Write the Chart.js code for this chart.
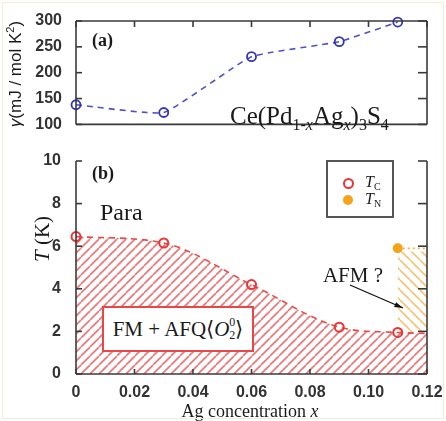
<!DOCTYPE html>
<html>
<head>
<meta charset="utf-8">
<script src="https://cdn.jsdelivr.net/npm/chart.js@4.4.1/dist/chart.umd.min.js"></script>
<style>
    html, body { margin: 0; padding: 0; background: #fff; }
    #wrap { position: relative; width: 446px; height: 421px; overflow: hidden; }
    #gammaChart { position: absolute; left: 0; top: 0; }
    #phaseChart { position: absolute; left: 0; top: 140px; }
    #edge { position: absolute; left: 2px; top: 2px; width: 440px; height: 415px; border: 1px solid #f2edd6; pointer-events: none; }
    .lab { position: absolute; white-space: nowrap; line-height: 1; color: #1a1a1a;
           font-family: "Liberation Serif", "Times New Roman", serif; }
    .sans { font-family: "Liberation Sans", Arial, sans-serif; }
    .vc { transform: translateY(-50%); }
    .cc { transform: translate(-50%, -50%); }
    .hc { transform: translateX(-50%); }
    .rot { transform: translate(-50%, -50%) rotate(-90deg); }
    .box { position: absolute; box-sizing: border-box; background: #fff; }
    .fm { display: flex; align-items: center; justify-content: center; font-size: 21px;
          line-height: 1; white-space: nowrap; color: #1a1a1a;
          font-family: "Liberation Serif", "Times New Roman", serif; }
    .stack { display: inline-block; font-size: 12px; line-height: 13px; vertical-align: -5px; }
    .stack span { display: block; }
    .dot { position: absolute; box-sizing: border-box; border-radius: 50%; }
</style>
</head>
<body>
<div id="wrap">
    <canvas id="gammaChart" width="446" height="140" style="width:446px;height:140px"></canvas>
    <canvas id="phaseChart" width="446" height="281" style="width:446px;height:281px"></canvas>

    <div class="lab vc" style="left:92px;top:40px;font-size:18px;font-weight:bold">(a)</div>
    <div class="lab" style="left:230px;top:103px;font-size:25px">Ce(Pd<span style="font-size:16px;vertical-align:-6px">1-<i>x</i></span>Ag<span style="font-size:16px;vertical-align:-6px"><i>x</i></span>)<span style="font-size:16px;vertical-align:-6px">3</span>S<span style="font-size:16px;vertical-align:-6px">4</span></div>
    <div class="lab sans rot" style="left:14px;top:74px;font-size:17px"><i>γ</i>(mJ / mol K<span style="font-size:11px;vertical-align:7px">2</span>)</div>

    <div class="lab vc" style="left:92px;top:173px;font-size:18px;font-weight:bold">(b)</div>
    <div class="lab vc" style="left:100px;top:212px;font-size:24px">Para</div>
    <div class="box fm" style="left:102px;top:306px;width:152px;height:46px;border:2px solid #e8474a">FM + AFQ⟨<i>O</i><span class="stack"><span>0</span><span>2</span></span>⟩</div>
    <div class="lab cc" style="left:353px;top:275px;font-size:21px">AFM ?</div>

    <div class="box" style="left:326px;top:160px;width:68px;height:58px;border:2px solid #555"></div>
    <div class="dot" style="left:342.5px;top:177.5px;width:11px;height:11px;border:2px solid #e8353a"></div>
    <div class="dot" style="left:343px;top:195px;width:10px;height:10px;background:#f5a31a"></div>
    <div class="lab" style="left:365px;top:173.6px;font-size:16px"><i>T</i><span style="font-size:10px;vertical-align:-3px">C</span></div>
    <div class="lab" style="left:365px;top:190.6px;font-size:16px"><i>T</i><span style="font-size:10px;vertical-align:-3px">N</span></div>

    <div class="lab hc" style="left:250px;top:402px;font-size:18px">Ag concentration <i>x</i></div>
    <div class="lab rot" style="left:42px;top:239px;font-size:21px"><i>T</i> (K)</div>

    <div id="edge"></div>
</div>
<script>
// values
const agConcentration = [0, 0.03, 0.06, 0.09, 0.11];
const gammaValues = [138, 123, 231, 260, 298];
const tcValues = [6.45, 6.15, 4.2, 2.2, 1.95];

const boundaryX = [0, 0.03, 0.06, 0.09, 0.11, 0.12];
const boundaryT = [6.45, 6.15, 4.2, 2.2, 1.95, 1.9];

const tnX = [0.11];
const tnValues = [5.9];
const tnLineX = [0.11, 0.12];
const tnLineT = [5.9, 5.9];

const afmX = [0.11, 0.12];
const afmTop = [5.75, 5.75];
const afmBottom = [1.95, 1.9];

const xTickValues = [0, 0.02, 0.04, 0.06, 0.08, 0.10, 0.12];
const xTickLabels = ["0", "0.02", "0.04", "0.06", "0.08", "0.10", "0.12"];
const gammaTicks = [100, 150, 200, 250, 300];
const tTicks = [0, 2, 4, 6, 8, 10];

const SANS = '"Liberation Sans", Arial, sans-serif';
const tickFont = { family: SANS, size: 16, weight: "bold" };
const FRAME = "#3a3a3a";

function toPoints(xs, ys) {
    return xs.map((x, i) => ({ x: x, y: ys[i] }));
}

function makeHatch(color, width, step, backslash) {
    const tile = document.createElement("canvas");
    tile.width = step;
    tile.height = step;
    const c = tile.getContext("2d");
    c.strokeStyle = color;
    c.lineWidth = width;
    c.beginPath();
    for (let k = -1; k <= 1; k++) {
        if (backslash) {
            c.moveTo(k * step, 0);
            c.lineTo(k * step + step, step);
        } else {
            c.moveTo(k * step, step);
            c.lineTo(k * step + step, 0);
        }
    }
    c.stroke();
    return c.createPattern(tile, "repeat");
}

// axis box and inward ticks, same style as the original plot
function strokeAxes(chart, boxTop, xTop, xBottom) {
    const ctx = chart.ctx;
    const a = chart.chartArea;
    const xs = chart.scales.x;
    const ys = chart.scales.y;
    const lines = [
        [a.left, a.top, a.left, a.bottom],
        [a.left, a.bottom, a.right, a.bottom],
        [a.right, a.bottom, a.right, a.top]
    ];
    if (boxTop) lines.push([a.left, a.top, a.right, a.top]);
    xTickValues.forEach(v => {
        const px = xs.getPixelForValue(v);
        if (xTop) lines.push([px, a.top, px, a.top + 6]);
        if (xBottom) lines.push([px, a.bottom, px, a.bottom - 5]);
    });
    ys.ticks.forEach(t => {
        const py = ys.getPixelForValue(t.value);
        lines.push([a.left, py, a.left + 6, py]);
        lines.push([a.right, py, a.right - 9, py]);
    });
    ctx.save();
    ctx.setLineDash([]);
    ctx.globalAlpha = 1;
    ctx.strokeStyle = FRAME;
    ctx.lineWidth = 1.6;
    lines.forEach(l => {
        ctx.beginPath();
        ctx.moveTo(l[0], l[1]);
        ctx.lineTo(l[2], l[3]);
        ctx.stroke();
    });
    ctx.restore();
}

function drawArrow(ctx, x1, y1, x2, y2) {
    const ang = Math.atan2(y2 - y1, x2 - x1);
    ctx.save();
    ctx.setLineDash([]);
    ctx.strokeStyle = "#111";
    ctx.fillStyle = "#111";
    ctx.lineWidth = 1.3;
    ctx.beginPath();
    ctx.moveTo(x1, y1);
    ctx.lineTo(x2, y2);
    ctx.stroke();
    ctx.beginPath();
    ctx.moveTo(x2, y2);
    ctx.lineTo(x2 - 9 * Math.cos(ang - 0.3), y2 - 9 * Math.sin(ang - 0.3));
    ctx.lineTo(x2 - 9 * Math.cos(ang + 0.3), y2 - 9 * Math.sin(ang + 0.3));
    ctx.closePath();
    ctx.fill();
    ctx.restore();
}

const gammaFrame = {
    id: "gammaFrame",
    afterDraw(chart) {
        strokeAxes(chart, true, true, false);
    }
};

const phaseFrame = {
    id: "phaseFrame",
    afterDraw(chart) {
        strokeAxes(chart, false, false, true);
        drawArrow(chart.ctx, 350, 145, 403, 168);
    }
};

const redHatch = makeHatch("rgba(236, 70, 70, 0.75)", 1.6, 9, false);
const orangeHatch = makeHatch("rgba(244, 190, 100, 0.9)", 1.6, 10, true);

new Chart(document.getElementById("gammaChart"), {
    type: "line",
    data: {
        datasets: [{
            data: toPoints(agConcentration, gammaValues),
            borderColor: "#5050c8",
            borderWidth: 1.6,
            borderDash: [6, 5],
            pointRadius: 4.5,
            pointBorderWidth: 1.8,
            pointBorderColor: "#3535b8",
            pointBackgroundColor: "rgba(0,0,0,0)",
            tension: 0.12,
            fill: false,
            clip: false
        }]
    },
    options: {
        responsive: false,
        animation: false,
        events: [],
        layout: { padding: { top: 21, right: 19, left: 0, bottom: 0 } },
        plugins: { legend: { display: false }, tooltip: { enabled: false } },
        scales: {
            x: {
                type: "linear", min: 0, max: 0.12,
                afterBuildTicks: axis => { axis.ticks = xTickValues.map(v => ({ value: v })); },
                afterFit: axis => { axis.height = 13; },
                ticks: { display: false },
                grid: { display: false },
                border: { display: false }
            },
            y: {
                min: 100, max: 300,
                afterBuildTicks: axis => { axis.ticks = gammaTicks.map(v => ({ value: v })); },
                afterFit: axis => { axis.width = 76; },
                ticks: { padding: 6, font: tickFont, color: "#333" },
                grid: { display: false },
                border: { display: false }
            }
        }
    },
    plugins: [gammaFrame]
});

new Chart(document.getElementById("phaseChart"), {
    type: "line",
    data: {
        datasets: [
            {
                data: toPoints(tnX, tnValues),
                showLine: false,
                pointRadius: 5,
                pointBorderWidth: 0,
                pointBackgroundColor: "#f5a31a",
                clip: false
            },
            {
                data: toPoints(agConcentration, tcValues),
                showLine: false,
                pointRadius: 4.5,
                pointBorderWidth: 2,
                pointBorderColor: "#e8353a",
                pointBackgroundColor: "rgba(0,0,0,0)",
                clip: false
            },
            {
                data: toPoints(tnLineX, tnLineT),
                borderColor: "#f2b04a",
                borderWidth: 1.6,
                borderDash: [2, 3],
                pointRadius: 0,
                fill: false
            },
            {
                data: toPoints(boundaryX, boundaryT),
                borderColor: "#e84a4a",
                borderWidth: 1.6,
                borderDash: [6, 5],
                pointRadius: 0,
                cubicInterpolationMode: "monotone",
                fill: "origin",
                backgroundColor: redHatch
            },
            {
                data: toPoints(afmX, afmTop),
                borderWidth: 0,
                pointRadius: 0,
                fill: "+1",
                backgroundColor: orangeHatch
            },
            {
                data: toPoints(afmX, afmBottom),
                borderWidth: 0,
                pointRadius: 0,
                fill: false
            }
        ]
    },
    options: {
        responsive: false,
        animation: false,
        events: [],
        layout: { padding: { top: 21, right: 19, left: 0, bottom: 0 } },
        plugins: { legend: { display: false }, tooltip: { enabled: false } },
        scales: {
            x: {
                type: "linear", min: 0, max: 0.12,
                afterBuildTicks: axis => { axis.ticks = xTickValues.map(v => ({ value: v })); },
                afterFit: axis => { axis.height = 47; },
                ticks: {
                    padding: 1, font: tickFont, color: "#333", maxRotation: 0, autoSkip: false,
                    callback: (v, i) => xTickLabels[i]
                },
                grid: { display: false },
                border: { display: false }
            },
            y: {
                min: 0, max: 10,
                afterBuildTicks: axis => { axis.ticks = tTicks.map(v => ({ value: v })); },
                afterFit: axis => { axis.width = 76; },
                ticks: { padding: 7, font: tickFont, color: "#333" },
                grid: { display: false },
                border: { display: false }
            }
        }
    },
    plugins: [phaseFrame]
});
</script>
</body>
</html>
